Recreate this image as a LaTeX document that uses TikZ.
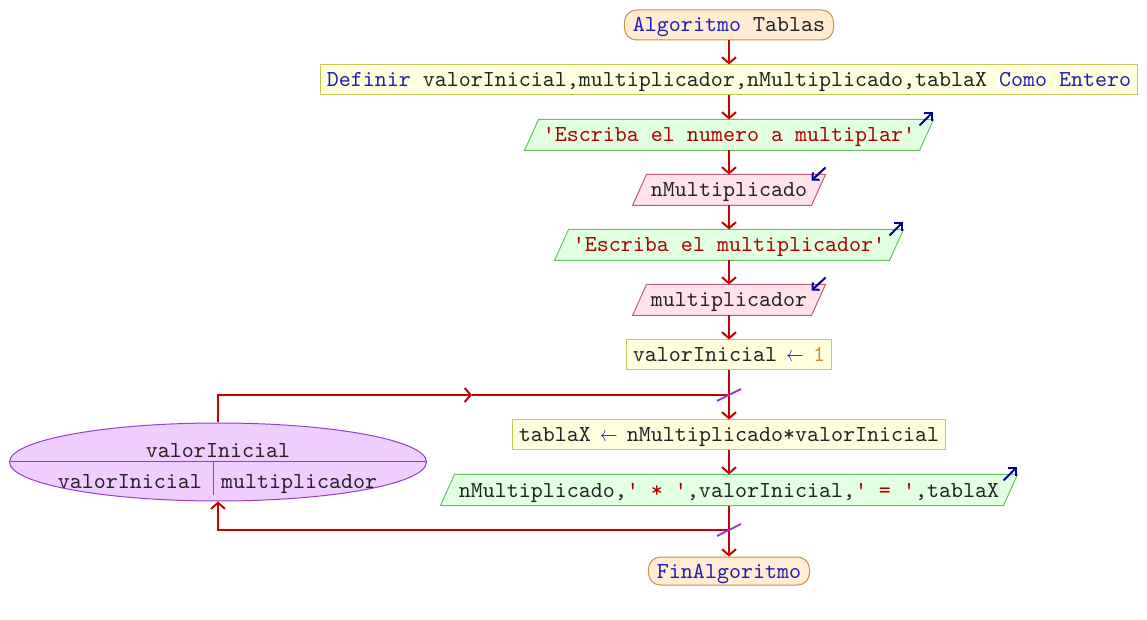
\documentclass[tikz,border=0pt]{standalone}
\usepackage{fontspec}
\setmainfont{lmmono10-regular.otf}[Ligatures=TeXOff]
\usetikzlibrary{shapes.geometric,arrows.meta,backgrounds}
\definecolor{rojo}{RGB}{200,0,0}
\definecolor{azul}{RGB}{30,30,180}
\definecolor{marca}{RGB}{0,0,140}
\definecolor{cadena}{RGB}{170,0,0}
\definecolor{numero}{RGB}{200,140,40}
\definecolor{texto}{RGB}{35,35,35}
\definecolor{termfill}{RGB}{255,236,210}
\definecolor{termdraw}{RGB}{205,145,70}
\definecolor{procfill}{RGB}{255,255,222}
\definecolor{procdraw}{RGB}{200,200,90}
\definecolor{salfill}{RGB}{226,255,226}
\definecolor{saldraw}{RGB}{100,195,100}
\definecolor{entfill}{RGB}{255,226,236}
\definecolor{entdraw}{RGB}{195,90,130}
\definecolor{ciclofill}{RGB}{240,205,255}
\definecolor{ciclodraw}{RGB}{150,60,200}
\tikzset{
  base/.style={font=\fontsize{11.43pt}{13pt}\selectfont, text=texto, text height=8.5pt, text depth=1.5pt, inner ysep=2pt, line width=0.5pt},
  terminal/.style={base, draw=termdraw, fill=termfill, rounded corners=6pt, minimum height=15pt, inner xsep=4.25pt},
  proceso/.style={base, draw=procdraw, fill=procfill, minimum height=15pt, inner xsep=3pt},
  paralelo/.style={base, minimum height=15pt, inner xsep=5.5pt},
  flujo/.style={draw=rojo, line width=1pt, -{Straight Barb[length=3pt,width=7pt]}},
  linea/.style={draw=rojo, line width=1pt},
  corte/.style={draw=ciclodraw, line width=1pt},
  flecha/.style={draw=marca, line width=1pt, -{Straight Barb[length=2.5pt,width=5pt]}}
}
\newcommand{\kw}[1]{\textcolor{azul}{#1}}
\newcommand{\str}[1]{\textcolor{cadena}{#1}}
\newcommand{\asig}{\makebox[0.525em]{\textcolor{azul}{\scalebox{0.8}[1]{$\leftarrow$}}}}
\begin{document}
\begin{tikzpicture}[x=0.5pt,y=-0.5pt]
\useasboundingbox (0,0) rectangle (1147,620);
% nodos
\node[terminal] (inicio) at (729,25) {\kw{Algoritmo} Tablas};
\node[proceso] (definir) at (729,80) {\kw{Definir} valorInicial,multiplicador,nMultiplicado,tablaX \kw{Como} \kw{Entero}};
\node[paralelo] (escribir1) at (729,135) {\str{'Escriba el numero a multiplar'}};
\node[paralelo] (leer1) at (729,190) {nMultiplicado};
\node[paralelo] (escribir2) at (729,245) {\str{'Escriba el multiplicador'}};
\node[paralelo] (leer2) at (729,300) {multiplicador};
\node[proceso] (asignar) at (729,355) {valorInicial \asig{} \textcolor{numero}{1}};
\node[proceso] (calcular) at (729,435) {tablaX \asig{} nMultiplicado*valorInicial};
\node[paralelo] (mostrar) at (729,490) {nMultiplicado,\str{' * '},valorInicial,\str{' = '},tablaX};
\node[terminal, minimum height=14pt] (fin) at (729,571) {\kw{FinAlgoritmo}};
\node[base, ellipse, draw=ciclodraw, fill=ciclofill, minimum width=208.5pt, minimum height=39pt, inner sep=0pt] (ciclo) at (218,462) {};
\node[base] (variable) at (218,451) {valorInicial};
\node[base, anchor=east] (desde) at (209,481) {valorInicial};
\node[base, anchor=west] (hasta) at (214,481) {multiplicador};
\draw[draw=ciclodraw, line width=0.5pt] (ciclo.west) -- (ciclo.east);
\draw[draw=ciclodraw, line width=0.5pt] (213,462) -- (213,495);
% paralelogramos
\begin{scope}[on background layer]
\foreach \n/\c in {escribir1/sal,escribir2/sal,mostrar/sal,leer1/ent,leer2/ent}{
\filldraw[draw=\c draw, fill=\c fill, line width=0.5pt]
  ([shift={(-7,0)}]\n.south west) -- ([shift={(7,0)}]\n.north west) -- ([shift={(7,0)}]\n.north east)
  -- ([shift={(-7,0)}]\n.south east) -- cycle;};
\end{scope}
% uniones
\coordinate (j1) at (729,395);
\coordinate (j2) at (729,530);
\coordinate (m1) at (472,395);
% conectores
\draw[flujo] (inicio) -- (definir);
\draw[flujo] (definir) -- (escribir1);
\draw[flujo] (escribir1) -- (leer1);
\draw[flujo] (leer1) -- (escribir2);
\draw[flujo] (escribir2) -- (leer2);
\draw[flujo] (leer2) -- (asignar);
\draw[flujo] (asignar) -- (calcular);
\draw[flujo] (calcular) -- (mostrar);
\draw[flujo] (mostrar) -- (fin);
\draw[flujo] (ciclo.north) |- (m1);
\draw[linea] (m1) -- (j1);
\draw[flujo] (j2) -| (ciclo.south);
\draw[corte] ([shift={(-12,6)}]j1) -- ([shift={(12,-6)}]j1);
\draw[corte] ([shift={(-12,6)}]j2) -- ([shift={(12,-6)}]j2);
% marcas de entrada y salida
\foreach \n in {escribir1,escribir2,mostrar}{
\draw[flecha] ([shift={(-7,6)}]\n.north east) -- ([shift={(6,-7)}]\n.north east);};
\foreach \n in {leer1,leer2}{
\draw[flecha] ([shift={(7,-7)}]\n.north east) -- ([shift={(-7,6)}]\n.north east);};
\end{tikzpicture}
\end{document}
